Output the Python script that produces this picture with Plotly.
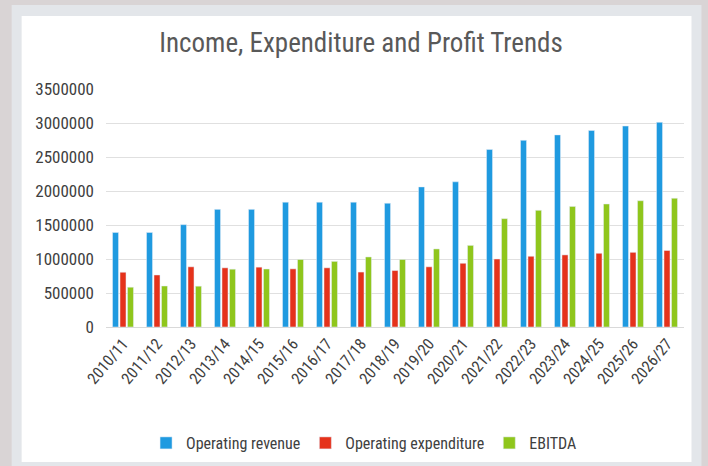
import plotly.graph_objects as go

years = ["2010/11", "2011/12", "2012/13", "2013/14", "2014/15", "2015/16", "2016/17",
         "2017/18", "2018/19", "2019/20", "2020/21", "2021/22", "2022/23", "2023/24",
         "2024/25", "2025/26", "2026/27"]
operating_revenue = [1390000, 1390000, 1505000, 1730000, 1730000, 1835000, 1835000,
                     1835000, 1820000, 2060000, 2135000, 2610000, 2745000, 2825000,
                     2890000, 2955000, 3010000]
operating_expenditure = [805000, 765000, 885000, 870000, 880000, 855000, 870000,
                         808000, 830000, 885000, 937000, 1000000, 1040000, 1060000,
                         1084000, 1098000, 1125000]
ebitda = [585000, 603000, 600000, 850000, 853000, 993000, 965000,
          1030000, 993000, 1148000, 1200000, 1593000, 1716000, 1773000,
          1809000, 1857000, 1893000]
y_ticks = [0, 500000, 1000000, 1500000, 2000000, 2500000, 3000000, 3500000]

W, H = 708, 466
L, R, T, B = 105.5, 684.5, 89, 327

def px(x):
    return (x - L) / (R - L)

def py(y):
    return (B - y) / (B - T)

FONT = "Liberation Sans Narrow, Roboto Condensed, Liberation Sans, sans-serif"

fig = go.Figure()
fig.add_trace(go.Bar(name="Operating revenue", x=years, y=operating_revenue, marker_color="#1f9ae0"))
fig.add_trace(go.Bar(name="Operating expenditure", x=years, y=operating_expenditure, marker_color="#e5321b"))
fig.add_trace(go.Bar(name="EBITDA", x=years, y=ebitda, marker_color="#8fc61c"))

shapes = [
    dict(type="rect", xref="paper", yref="paper", x0=px(11), x1=px(702), y0=py(480), y1=py(5),
         fillcolor="#e3e6ea", line_width=0, layer="below"),
    dict(type="rect", xref="paper", yref="paper", x0=px(21), x1=px(692), y0=py(462), y1=py(16),
         fillcolor="#ffffff", line_width=0, layer="below"),
]

fig.update_layout(
    width=W, height=H,
    margin=dict(l=L, r=W - R, t=T, b=H - B, autoexpand=False),
    paper_bgcolor="#d9d4d5",
    plot_bgcolor="#ffffff",
    barmode="group",
    bargap=0.34,
    bargroupgap=0.2,
    shapes=shapes,
    title=dict(text="Income, Expenditure and Profit Trends", x=361 / W, xanchor="center",
               y=1 - 43 / H, yanchor="middle", yref="container",
               font=dict(family=FONT, size=27, color="#595959")),
    font=dict(family=FONT, color="#404040"),
    legend=dict(orientation="h", x=px(364), xanchor="center", y=py(443), yanchor="middle",
                font=dict(size=16, color="#404040"), bgcolor="rgba(0,0,0,0)",
                itemwidth=30),
    showlegend=True,
)
fig.update_xaxes(tickangle=-50, tickfont=dict(size=16, color="#404040"), showline=True,
                 linecolor="#d9d9d9", linewidth=1, ticks="")
fig.update_yaxes(range=[0, 3500000], tickvals=y_ticks, ticktext=[str(v) for v in y_ticks],
                 showgrid=True, gridcolor="#e0e0e0", gridwidth=1, zeroline=False,
                 tickfont=dict(size=17, color="#404040"), ticklabelstandoff=11)

fig.write_html("out.html", config={"displayModeBar": False},
               post_script="document.body.style.margin='0';document.body.style.overflow='hidden';")
